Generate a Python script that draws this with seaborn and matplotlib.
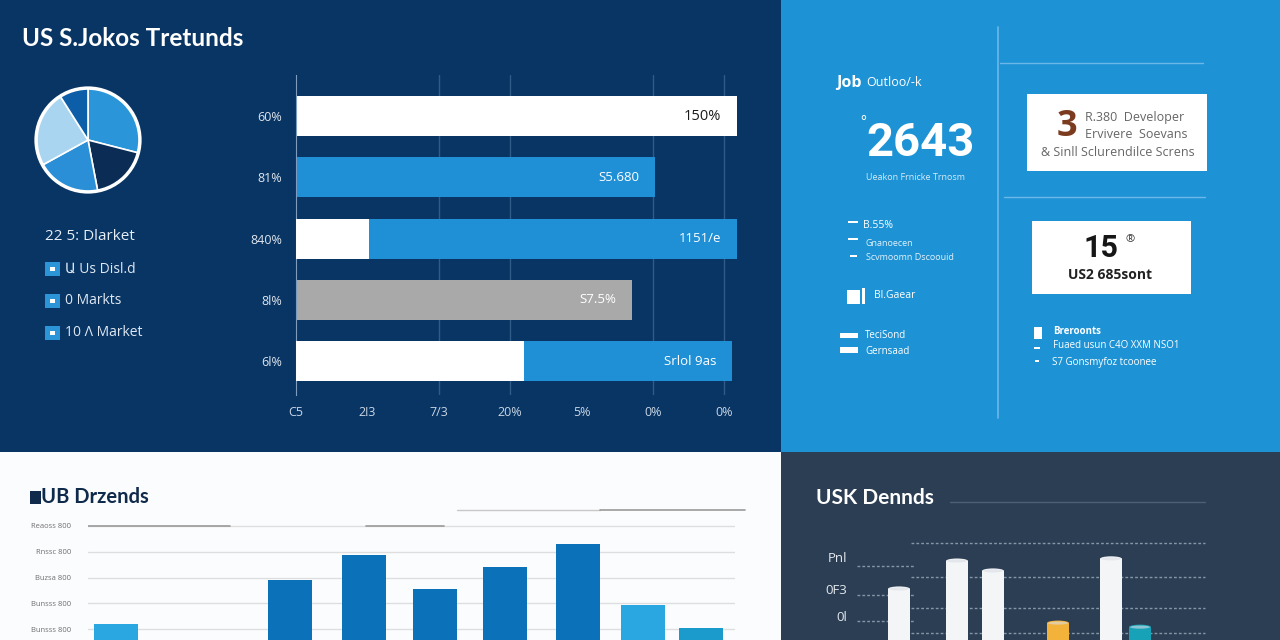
import numpy as np
import pandas as pd
import matplotlib
matplotlib.use("Agg")
from matplotlib import pyplot as plt
from matplotlib.patches import Rectangle, Circle, Ellipse
from matplotlib.lines import Line2D
import seaborn as sns

sns.set_style("white")
plt.rcParams['font.family'] = ['Open Sans', 'DejaVu Sans']

# ---- data ----
# pie (top left)
pie_share = [29, 18, 20, 24, 9]
pie_colors = ["#2a95d8", "#0b2c55", "#2a8fd6", "#a9d5f1", "#0d5ea8"]

# horizontal bars (top middle)
rows = ["60%", "81%", "840%", "8l%", "6l%"]
row_total = [6.17, 5.03, 6.17, 4.71, 6.11]
row_front = [0, 0, 1.02, 0, 3.19]
row_colors = ["#ffffff", "#1f8fd6", "#1f8fd6", "#a9a9a9", "#1f8fd6"]
row_notes = ["150%", "S5.680", "1151/e", "S7.5%", "Srlol 9as"]
row_ticks = ["C5", "2!3", "7/3", "20%", "5%", "0%", "0%"]

# bottom left bars
wk = [2.8, 20.2, 27.6, 34.7, 41.7, 49.0, 55.5, 61.3]
wk_vals = [1.2, 2.9, 3.88, 2.56, 3.41, 4.3, 1.94, 1.05]
wk_group = ["light", "dark", "dark", "dark", "dark", "dark", "light", "teal"]
wk_ylabels = ["Bunsss 800", "Bunsss 800", "Buzsa 800", "Rnssc 800", "Reaoss 800"]

# bottom right bars
uk = [4.9, 10.7, 14.3, 20.8, 26.1, 29.0]
uk_vals = [2.58, 3.48, 3.16, 1.48, 3.55, 1.35]
uk_group = ["w", "w", "w", "o", "w", "t"]
uk_ylabels = ["0l", "0F3", "Pnl"]
uk_yticks = [1.71, 2.58, 3.61]

W, H = 1280, 640
fig = plt.figure(figsize=(12.8, 6.4), dpi=100)


def box(l, t, r, b):
    return [l / W, 1 - b / H, (r - l) / W, (b - t) / H]


def txt(x, y, s, **kw):
    kw.setdefault("va", "center")
    return fig.text(x / W, 1 - y / H, s, **kw)


def rect(l, t, r, b, c, z=-5, **kw):
    fig.add_artist(Rectangle((l / W, 1 - b / H), (r - l) / W, (b - t) / H,
                             transform=fig.transFigure, facecolor=c,
                             edgecolor="none", zorder=z, **kw))


def line(x0, y0, x1, y1, c, lw=1, z=-4, **kw):
    fig.add_artist(Line2D([x0 / W, x1 / W], [1 - y0 / H, 1 - y1 / H],
                          transform=fig.transFigure, color=c, lw=lw,
                          zorder=z, **kw))


# panel backgrounds
rect(0, 0, 781, 452, "#093564")
rect(781, 0, W, 452, "#1d93d5")
rect(0, 452, 781, H, "#fbfcfe")
rect(781, 452, W, H, "#2c3e53")

# ---- top left: title, pie, legend ----
txt(22, 38, "US S.Jokos Tretunds", color="white", fontsize=17.5,
    fontweight="bold", family=["Lato", "DejaVu Sans"])

axp = fig.add_axes(box(33, 85, 143, 195))
axp.pie(pie_share, colors=pie_colors, startangle=90, counterclock=False,
        wedgeprops=dict(edgecolor="white", linewidth=1.2))
axp.add_patch(Circle((0, 0), 1, fill=False, edgecolor="white", lw=2.5))
axp.set_xlim(-1.06, 1.06)
axp.set_ylim(-1.06, 1.06)
axp.set_aspect("equal")
axp.axis("off")

txt(45, 236, "22 5: Dlarket", color="#e6edf5", fontsize=11)
for y, s in [(269, "Ա Us Disl.d"), (301, "0 Markts"), (333, "10 Λ Market")]:
    rect(45, y - 7, 60, y + 7, "#2b95d8", z=2)
    rect(50, y - 2, 55, y + 2, "white", z=3)
    txt(65, y, s, color="#dfe8f2", fontsize=10)

# ---- top middle: horizontal bars ----
axh = fig.add_axes(box(296, 75, 753, 395))
axh.set_facecolor("none")
for xv in [2, 3, 5, 6]:
    axh.axvline(xv, color="#2f5b88", lw=1, zorder=0)
sns.barplot(x=row_total, y=rows, hue=rows, palette=dict(zip(rows, row_colors)),
            saturation=1, width=0.65, linewidth=0, legend=False, ax=axh, zorder=2)
sns.barplot(x=row_front, y=rows, color="white", saturation=1, width=0.65,
            linewidth=0, ax=axh, zorder=3)
for i, (tot, note) in enumerate(zip(row_total, row_notes)):
    axh.text(tot - 0.22, i, note, ha="right", va="center", zorder=4,
             color="#1b1b1b" if i == 0 else "white",
             fontsize=10.5 if i == 0 else 9.5)
axh.set_xlim(0, 6.4)
axh.set_ylim(4.55, -0.67)
axh.set_xticks(range(7))
axh.set_xticklabels(row_ticks)
axh.tick_params(axis="x", colors="#c9d6e4", labelsize=9, direction="in",
                length=6, pad=8)
axh.tick_params(axis="y", colors="#dfe6ee", labelsize=9, length=0, pad=10)
axh.set_xlabel("")
axh.set_ylabel("")
for s in ["top", "right", "bottom"]:
    axh.spines[s].set_visible(False)
axh.spines["left"].set_color("#7e9cbf")

# ---- top right: outlook panel ----
line(998, 27, 998, 418, "#6db7e8", lw=1.2)
line(1000, 63, 1203, 63, "#6db7e8", lw=1)
line(1004, 197, 1205, 197, "#6db7e8", lw=1)

txt(836, 83, "Job", color="white", fontsize=11.5, fontweight="bold")
txt(866, 83, "Outloo/-k", color="white", fontsize=9)
txt(921, 143, "2643", color="white", fontsize=34, fontweight="bold",
    ha="center", family=["Roboto", "DejaVu Sans"])
txt(860, 122, "°", color="white", fontsize=10)
txt(916, 177, "Ueakon Frnicke Trnosm", color="#d6eaf8", fontsize=6.5, ha="center")

rect(848, 221, 858, 223, "white", z=2)
txt(863, 225, "B.55%", color="white", fontsize=7.5)
rect(848, 238, 858, 240, "white", z=2)
txt(866, 243, "Gnanoecen", color="#e2f0fa", fontsize=6.5)
rect(850, 255, 857, 257, "white", z=2)
txt(866, 257, "Scvmoomn Dscoouid", color="#e2f0fa", fontsize=6.5)
rect(847, 290, 860, 304, "white", z=2)
rect(862, 288, 865, 304, "white", z=2)
txt(874, 296, "Bl.Gaear", color="white", fontsize=7.5)
rect(840, 333, 858, 338, "white", z=2)
txt(865, 336, "TeciSond", color="white", fontsize=7)
rect(840, 347, 858, 353, "white", z=2)
txt(865, 351, "Gernsaad", color="white", fontsize=7)

rect(1027, 94, 1207, 171, "white", z=1)
txt(1067, 127, "3", color="#7b3b1f", fontsize=26, fontweight="bold", ha="center")
txt(1085, 117, "R.380  Developer", color="#666666", fontsize=9)
txt(1085, 135, "Ervivere  Soevans", color="#666666", fontsize=9)
txt(1041, 152, "& Sinll Sclurendilce Screns", color="#666666", fontsize=9)

rect(1032, 221, 1191, 294, "white", z=1)
txt(1101, 248, "15", color="#161616", fontsize=22, fontweight="bold",
    ha="center", family=["Roboto", "DejaVu Sans"])
txt(1125, 240, "®", color="#333333", fontsize=8)
txt(1110, 275, "US2 685sont", color="#222222", fontsize=10,
    fontweight="bold", ha="center")

rect(1034, 327, 1042, 339, "white", z=2)
txt(1053, 331, "Breroonts", color="white", fontsize=7, fontweight="bold")
rect(1034, 347, 1040, 349, "white", z=2)
txt(1053, 345, "Fuaed usun C4O XXM NSO1", color="white", fontsize=7)
rect(1035, 360, 1039, 362, "white", z=2)
txt(1052, 363, "S7 Gonsmyfoz tcoonee", color="white", fontsize=7)

# ---- bottom left: white panel bars ----
rect(30, 491, 41, 504, "#102a4c", z=2)
txt(41, 497, "UB Drzends", color="#102a4c", fontsize=14.5, fontweight="bold",
    family=["Lato", "DejaVu Sans"])
line(457, 510, 600, 510, "#c8c8c8", lw=1)
line(600, 510, 745, 510, "#9a9a9a", lw=1.2)

axb = fig.add_axes(box(88, 513, 735, 655))
axb.set_facecolor("none")
sns.barplot(x=wk, y=wk_vals, hue=wk_group, native_scale=True, dodge=False,
            palette={"light": "#2aa6e1", "dark": "#0b72ba", "teal": "#1b9bcc"},
            saturation=1, width=0.76, linewidth=0, legend=False, ax=axb, zorder=2)
axb.set_xlim(0, 64.7)
axb.set_ylim(0, 5.5)
axb.set_yticks(range(1, 6))
axb.set_yticklabels(wk_ylabels)
for yv in range(1, 6):
    axb.axhline(yv, color="#dedede", lw=1, zorder=0)
axb.axhline(5, xmin=0, xmax=0.22, color="#9a9a9a", lw=1.2, zorder=1)
axb.axhline(5, xmin=0.43, xmax=0.55, color="#9a9a9a", lw=1.2, zorder=1)
axb.tick_params(axis="y", colors="#6f6f6f", labelsize=5.5, length=0, pad=12)
axb.set_xticks([])
axb.set_xlabel("")
axb.set_ylabel("")
sns.despine(ax=axb, left=True, bottom=True)

# ---- bottom right: dark panel bars ----
txt(816, 498, "USK Dennds", color="white", fontsize=15, fontweight="bold",
    family=["Lato", "DejaVu Sans"])
line(950, 502, 1205, 502, "#4b6077", lw=1)

axr = fig.add_axes(box(850, 520, 1210, 669))
axr.set_facecolor("none")
for yv in [4.05, 2.95, 1.97, 1.16]:
    axr.axhline(yv, xmin=0.17, xmax=0.985, color="#8596a8", lw=1,
                ls=(0, (2, 1.5)), zorder=0)
for yv in [3.32, 2.39, 1.55]:
    axr.axhline(yv, xmin=0.02, xmax=0.18, color="#8596a8", lw=1,
                ls=(0, (2, 1.5)), zorder=0)
sns.barplot(x=uk, y=uk_vals, hue=uk_group, native_scale=True, dodge=False,
            palette={"w": "#f3f5f7", "o": "#f3b23a", "t": "#17a2b8"},
            saturation=1, width=0.76, linewidth=0, legend=False, ax=axr, zorder=2)
# rounded caps on the bars, like the reference's cylinders
for p in list(axr.patches):
    cx = p.get_x() + p.get_width() / 2
    top = p.get_y() + p.get_height()
    fc = p.get_facecolor()
    axr.add_patch(Ellipse((cx, top), p.get_width(), 0.16, facecolor=fc,
                          edgecolor="none", zorder=2))
    axr.add_patch(Ellipse((cx, top), p.get_width() * 0.9, 0.1,
                          facecolor=(0.85, 0.87, 0.9, 0.6), edgecolor="none", zorder=3))
axr.set_xlim(0, 36)
axr.set_ylim(0, 4.8)
axr.set_yticks(uk_yticks)
axr.set_yticklabels(uk_ylabels)
axr.tick_params(axis="y", colors="#e3e8ee", labelsize=9.5, length=0, pad=2)
axr.set_xticks([])
axr.set_xlabel("")
axr.set_ylabel("")
sns.despine(ax=axr, left=True, bottom=True)

fig.savefig("out.png", dpi=100)
